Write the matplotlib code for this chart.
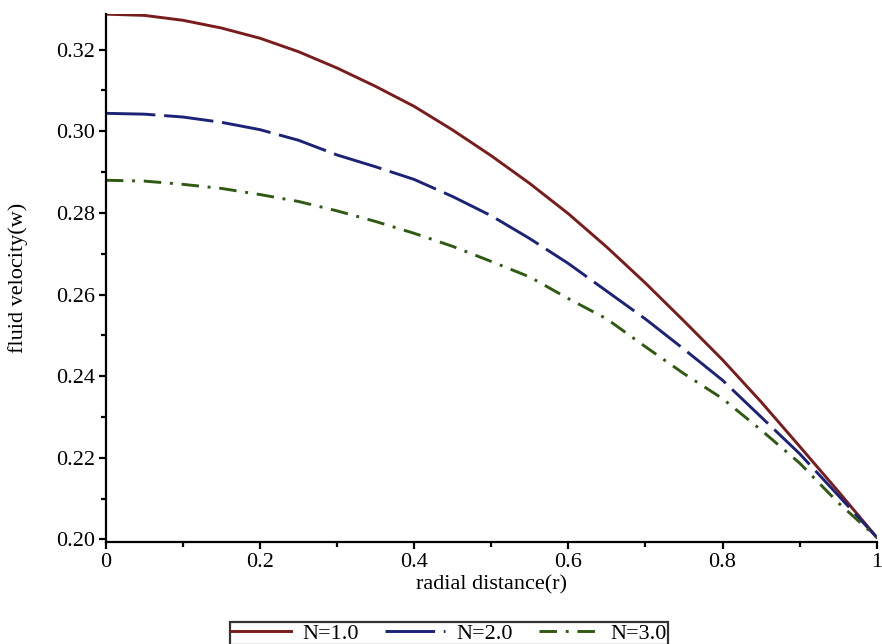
import numpy as np
import matplotlib
matplotlib.use('Agg')
import matplotlib.pyplot as plt
from matplotlib.ticker import MultipleLocator

# radial positions and velocity profiles
r = [0.00, 0.05, 0.10, 0.15, 0.20, 0.25, 0.30, 0.35, 0.40, 0.45, 0.50,
     0.55, 0.60, 0.65, 0.70, 0.75, 0.80, 0.85, 0.90, 0.95, 1.00]
w_n1 = [0.3287, 0.3284, 0.3272, 0.3253, 0.3228, 0.3195, 0.3155, 0.3110, 0.3061, 0.3003, 0.2940,
        0.2872, 0.2798, 0.2716, 0.2628, 0.2535, 0.2440, 0.2337, 0.2228, 0.2118, 0.2005]
w_n2 = [0.3044, 0.3042, 0.3035, 0.3022, 0.3004, 0.2978, 0.2942, 0.2913, 0.2882, 0.2840, 0.2793,
        0.2737, 0.2676, 0.2608, 0.2540, 0.2466, 0.2390, 0.2300, 0.2210, 0.2108, 0.2005]
w_n3 = [0.2880, 0.2878, 0.2870, 0.2860, 0.2845, 0.2828, 0.2805, 0.2779, 0.2750, 0.2718, 0.2681,
        0.2643, 0.2590, 0.2540, 0.2472, 0.2406, 0.2345, 0.2268, 0.2187, 0.2090, 0.2005]
labels = ['N=1.0', 'N=2.0', 'N=3.0']

plt.rcParams['font.family'] = ['Liberation Serif', 'DejaVu Serif']

fig = plt.figure(figsize=(8.82, 6.44), dpi=100)
ax = fig.add_axes([0.120, 0.158, 0.874, 0.820])

lw = 2.1
ax.plot(r, w_n1, color='#7a1c1c', lw=lw, label=labels[0])
ax.plot(r, w_n2, color='#1c2276', lw=lw, dashes=(17, 3), label=labels[1])
ax.plot(r, w_n3, color='#2f5a12', lw=lw, dashes=(6, 3, 1, 3), label=labels[2])

ax.set_xlim(0, 1)
ax.set_ylim(0.1993, 0.3287)
ax.xaxis.set_minor_locator(MultipleLocator(0.1))
ax.yaxis.set_minor_locator(MultipleLocator(0.01))
ax.set_xticks([0, 0.2, 0.4, 0.6, 0.8, 1.0])
ax.set_xticklabels(['0', '0.2', '0.4', '0.6', '0.8', '1'])
ax.set_yticks([0.20, 0.22, 0.24, 0.26, 0.28, 0.30, 0.32])
ax.set_yticklabels(['0.20', '0.22', '0.24', '0.26', '0.28', '0.30', '0.32'])

for s in ['top', 'right']:
    ax.spines[s].set_visible(False)
for s in ['left', 'bottom']:
    ax.spines[s].set_linewidth(1.6)
ax.tick_params(which='major', direction='out', length=5, width=1.6, labelsize=16, pad=3)
ax.tick_params(which='minor', direction='out', length=3.5, width=1.6)

ax.set_xlabel('radial distance(r)', fontsize=16, labelpad=2)
ax.set_ylabel('fluid velocity(w)', fontsize=16, labelpad=20)

leg = fig.legend(loc='upper center', bbox_to_anchor=(0.509, 1 - 611 / 644), ncol=3,
                 fontsize=16, frameon=True, fancybox=False, edgecolor='black',
                 handlelength=2.7, columnspacing=1.2, handletextpad=0.5, borderpad=0.05)
leg.get_frame().set_linewidth(1.6)

fig.savefig('out.png', dpi=100)
